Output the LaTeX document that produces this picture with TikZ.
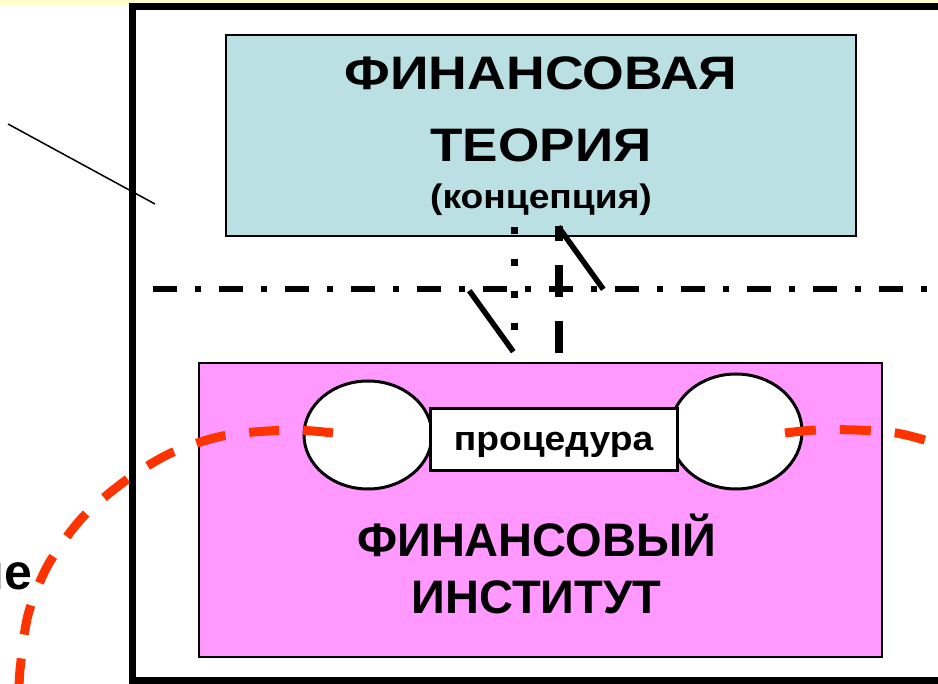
\documentclass[tikz,border=0pt]{standalone}
\usepackage{fontspec}
\setmainfont{Liberation Sans}
\usetikzlibrary{shapes.geometric}
\definecolor{cyanc}{HTML}{BBE0E3}
\definecolor{pinkc}{HTML}{FF99FF}
\definecolor{redc}{HTML}{FF3300}
\definecolor{yelc}{HTML}{FFFFCC}
\begin{document}
\begin{tikzpicture}[x=1pt,y=-1pt,
  box/.style={draw=black, line width=1.6pt, inner sep=0pt},
  blob/.style={draw=black, line width=3pt, fill=white, ellipse, inner sep=0pt},
  procbox/.style={draw=black, line width=3pt, fill=white, inner sep=0pt},
  bigtxt/.style={font=\fontsize{47}{50}\selectfont\bfseries, inner sep=0pt},
  smalltxt/.style={font=\fontsize{34}{38}\selectfont\bfseries, inner sep=0pt},
  reddash/.style={draw=redc, line width=9pt, dash pattern=on 30pt off 24pt},
  slash/.style={line width=5.5pt},
]
\useasboundingbox (0,0) rectangle (938,684);
\clip (0,0) rectangle (938,684);
% top strip and frame
\fill[yelc] (0,0) rectangle (938,5);
\draw[line width=7.5pt] (132.3,6.3) rectangle (990,680.7);
% thin pointer line
\coordinate (p1) at (8,124);
\coordinate (p2) at (155,204);
\draw[line width=1.5pt] (p1) -- (p2);
% left cut-off text
\node[font=\fontsize{50}{54}\selectfont\bfseries, inner sep=0pt, anchor=base east] (cut) at (32,590) {ие};
% theory box
\node[box, fill=cyanc, minimum width=630pt, minimum height=201pt] (theory) at (541,135.5) {};
\node[bigtxt, anchor=base] (t1) at (541,90) {\scalebox{1.14}[1]{ФИНАНСОВАЯ}};
\node[bigtxt, anchor=base] (t2) at (541,161.7) {\scalebox{1.13}[1]{ТЕОРИЯ}};
\node[smalltxt, anchor=base] (t3) at (541,209) {\scalebox{1.095}[1]{(концепция)}};
% dash-dot border line
\coordinate (h1) at (152.7,289.5);
\coordinate (h2) at (960,289.5);
\draw[line width=6pt, dash pattern=on 24.6pt off 18pt on 6pt off 17.4pt] (h1) -- (h2);
% vertical dotted and dashed links
\coordinate (d1) at (514.5,226.7);
\coordinate (d2) at (514.5,331);
\draw[line width=7.5pt, dash pattern=on 7.5pt off 24.5pt] (d1) -- (d2);
\coordinate (v1) at (559,226);
\coordinate (v2) at (559,354);
\draw[line width=8pt, dash pattern=on 32pt off 24pt, dash phase=17pt] (v1) -- (v2);
% diagonal strokes
\coordinate (a1) at (558.3,226.7);
\coordinate (a2) at (603.3,289.3);
\draw[slash] (a1) -- (a2);
\coordinate (b1) at (469.3,290.7);
\coordinate (b2) at (513.3,351.7);
\draw[slash] (b1) -- (b2);
% institute box
\node[box, fill=pinkc, minimum width=683pt, minimum height=294pt] (inst) at (540.5,510) {};
\node[blob, minimum width=128pt, minimum height=108pt] (eL) at (368,435) {};
\node[blob, minimum width=132pt, minimum height=115pt] (eR) at (736,431.5) {};
\node[procbox, minimum width=247pt, minimum height=62pt] (proc) at (553.5,440) {};
\node[smalltxt, anchor=base] (proctxt) at (553.5,451) {\scalebox{1.095}[1]{процедура}};
\node[bigtxt, anchor=base] (i1) at (536.5,557) {ФИНАНСОВЫЙ};
\node[bigtxt, anchor=base] (i2) at (536.5,613) {ИНСТИТУТ};
% red dashed arcs
\draw[reddash] plot[smooth] coordinates {(333,433) (290,430) (225,435.5) (171,453) (125,481) (82,518) (48,565) (28,615) (20,670) (19,700)};
\draw[reddash, dash pattern=on 31pt off 24pt] plot[smooth] coordinates {(785,433) (816,430) (856,430) (896,433) (928,441) (960,452)};
\end{tikzpicture}
\end{document}
